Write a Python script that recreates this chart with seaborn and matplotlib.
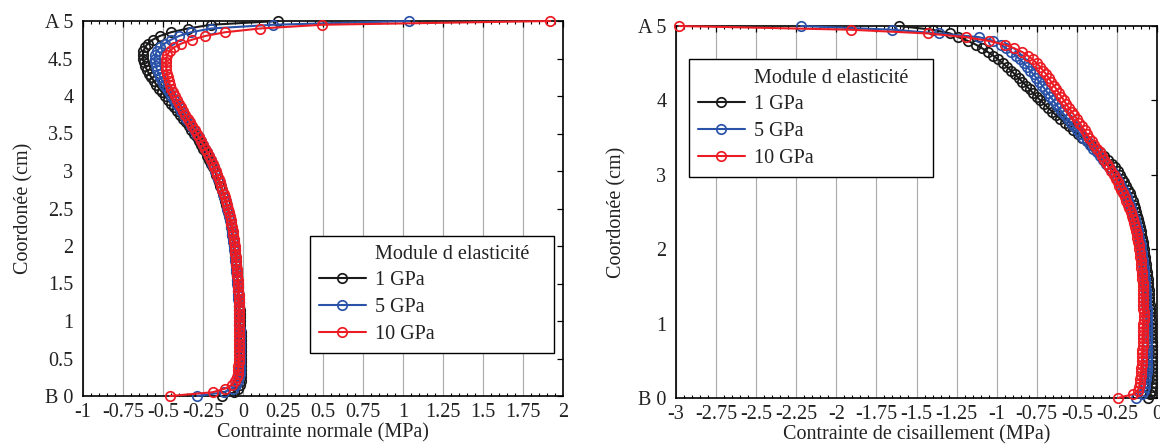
import matplotlib
matplotlib.use("Agg")
import matplotlib.pyplot as plt
import seaborn as sns
import pandas as pd
from matplotlib.ticker import MultipleLocator, FixedLocator
from matplotlib.lines import Line2D

# ---------------- data ----------------
coord = [
    0.00, 0.05, 0.10, 0.15, 0.20, 0.25, 0.30, 0.35, 0.40, 0.45,
    0.50, 0.55, 0.60, 0.65, 0.70, 0.75, 0.80, 0.85, 0.90, 0.95,
    1.00, 1.05, 1.10, 1.15, 1.20, 1.25, 1.30, 1.35, 1.40, 1.45,
    1.50, 1.55, 1.60, 1.65, 1.70, 1.75, 1.80, 1.85, 1.90, 1.95,
    2.00, 2.05, 2.10, 2.15, 2.20, 2.25, 2.30, 2.35, 2.40, 2.45,
    2.50, 2.55, 2.60, 2.65, 2.70, 2.75, 2.80, 2.85, 2.90, 2.95,
    3.00, 3.05, 3.10, 3.15, 3.20, 3.25, 3.30, 3.35, 3.40, 3.45,
    3.50, 3.55, 3.60, 3.65, 3.70, 3.75, 3.80, 3.85, 3.90, 3.95,
    4.00, 4.05, 4.10, 4.15, 4.20, 4.25, 4.30, 4.35, 4.40, 4.45,
    4.50, 4.55, 4.60, 4.65, 4.70, 4.75, 4.80, 4.85, 4.90, 4.95,
    5.00]

series_labels = ["1 GPa", "5 GPa", "10 GPa"]

# Contrainte normale (MPa)
normal_1gpa = [
    -0.13, -0.055, -0.03, -0.02, -0.015, -0.013, -0.012, -0.011, -0.011, -0.011,
    -0.011, -0.011, -0.012, -0.012, -0.013, -0.013, -0.014, -0.015, -0.016, -0.017,
    -0.018, -0.019, -0.02, -0.021, -0.022, -0.024, -0.025, -0.027, -0.029, -0.031,
    -0.033, -0.035, -0.037, -0.039, -0.041, -0.043, -0.045, -0.048, -0.05, -0.053,
    -0.056, -0.059, -0.062, -0.066, -0.07, -0.074, -0.078, -0.083, -0.088, -0.093,
    -0.099, -0.105, -0.111, -0.118, -0.125, -0.133, -0.141, -0.149, -0.158, -0.167,
    -0.177, -0.187, -0.198, -0.21, -0.222, -0.234, -0.247, -0.261, -0.275, -0.29,
    -0.306, -0.322, -0.339, -0.357, -0.375, -0.394, -0.413, -0.432, -0.451, -0.47,
    -0.488, -0.506, -0.524, -0.541, -0.557, -0.573, -0.588, -0.601, -0.612, -0.62,
    -0.625, -0.627, -0.623, -0.612, -0.595, -0.565, -0.52, -0.45, -0.345, -0.2,
    0.22]
normal_5gpa = [
    -0.285, -0.12, -0.065, -0.042, -0.03, -0.024, -0.021, -0.019, -0.018, -0.018,
    -0.018, -0.018, -0.018, -0.018, -0.019, -0.019, -0.02, -0.02, -0.021, -0.022,
    -0.023, -0.024, -0.025, -0.026, -0.027, -0.028, -0.029, -0.031, -0.032, -0.034,
    -0.035, -0.037, -0.039, -0.041, -0.043, -0.045, -0.047, -0.049, -0.052, -0.054,
    -0.057, -0.06, -0.063, -0.067, -0.07, -0.074, -0.078, -0.083, -0.087, -0.092,
    -0.098, -0.103, -0.109, -0.116, -0.123, -0.13, -0.138, -0.146, -0.154, -0.163,
    -0.172, -0.182, -0.192, -0.203, -0.214, -0.226, -0.238, -0.251, -0.264, -0.278,
    -0.292, -0.307, -0.322, -0.338, -0.354, -0.37, -0.386, -0.402, -0.418, -0.434,
    -0.449, -0.464, -0.478, -0.492, -0.505, -0.517, -0.528, -0.538, -0.546, -0.551,
    -0.553, -0.548, -0.537, -0.518, -0.49, -0.45, -0.4, -0.325, -0.2, 0.19,
    1.04]
normal_10gpa = [
    -0.456, -0.19, -0.11, -0.07, -0.05, -0.04, -0.034, -0.031, -0.029, -0.028,
    -0.027, -0.027, -0.027, -0.027, -0.027, -0.027, -0.027, -0.027, -0.027, -0.027,
    -0.027, -0.027, -0.027, -0.027, -0.027, -0.027, -0.028, -0.028, -0.029, -0.03,
    -0.031, -0.033, -0.035, -0.037, -0.039, -0.041, -0.043, -0.045, -0.047, -0.049,
    -0.051, -0.054, -0.057, -0.06, -0.064, -0.068, -0.072, -0.077, -0.082, -0.088,
    -0.094, -0.1, -0.107, -0.114, -0.121, -0.129, -0.137, -0.145, -0.153, -0.162,
    -0.171, -0.18, -0.19, -0.2, -0.211, -0.223, -0.235, -0.248, -0.261, -0.274,
    -0.288, -0.302, -0.316, -0.33, -0.345, -0.36, -0.374, -0.388, -0.402, -0.415,
    -0.427, -0.438, -0.448, -0.457, -0.465, -0.471, -0.476, -0.479, -0.481, -0.482,
    -0.48, -0.473, -0.458, -0.43, -0.385, -0.32, -0.236, -0.113, 0.106, 0.495,
    1.92]

# Contrainte de cisaillement (MPa)
shear_1gpa = [
    -0.055, -0.042, -0.036, -0.033, -0.031, -0.03, -0.029, -0.029, -0.029, -0.029,
    -0.03, -0.03, -0.031, -0.032, -0.033, -0.034, -0.035, -0.036, -0.037, -0.038,
    -0.039, -0.04, -0.041, -0.042, -0.044, -0.045, -0.047, -0.048, -0.05, -0.052,
    -0.054, -0.056, -0.058, -0.06, -0.063, -0.066, -0.069, -0.072, -0.075, -0.078,
    -0.081, -0.085, -0.089, -0.093, -0.097, -0.102, -0.107, -0.112, -0.118, -0.124,
    -0.13, -0.137, -0.144, -0.152, -0.161, -0.17, -0.18, -0.191, -0.203, -0.216,
    -0.23, -0.245, -0.262, -0.282, -0.304, -0.328, -0.354, -0.381, -0.409, -0.437,
    -0.465, -0.493, -0.521, -0.549, -0.576, -0.603, -0.629, -0.654, -0.679, -0.703,
    -0.727, -0.75, -0.773, -0.795, -0.817, -0.84, -0.862, -0.886, -0.91, -0.935,
    -0.962, -0.99, -1.02, -1.055, -1.09, -1.13, -1.18, -1.24, -1.29, -1.40,
    -1.61]
shear_5gpa = [
    -0.13, -0.095, -0.082, -0.076, -0.072, -0.069, -0.067, -0.065, -0.064, -0.063,
    -0.062, -0.062, -0.061, -0.061, -0.06, -0.06, -0.06, -0.061, -0.061, -0.061,
    -0.062, -0.062, -0.063, -0.064, -0.065, -0.066, -0.067, -0.068, -0.069, -0.071,
    -0.072, -0.074, -0.076, -0.078, -0.08, -0.082, -0.085, -0.088, -0.091, -0.094,
    -0.098, -0.102, -0.106, -0.111, -0.116, -0.121, -0.127, -0.133, -0.14, -0.147,
    -0.154, -0.162, -0.17, -0.179, -0.189, -0.199, -0.21, -0.222, -0.235, -0.249,
    -0.264, -0.281, -0.299, -0.318, -0.337, -0.357, -0.377, -0.398, -0.418, -0.439,
    -0.459, -0.479, -0.499, -0.519, -0.538, -0.557, -0.576, -0.595, -0.613, -0.631,
    -0.648, -0.665, -0.682, -0.699, -0.716, -0.734, -0.752, -0.77, -0.79, -0.81,
    -0.832, -0.855, -0.88, -0.91, -0.94, -0.975, -1.02, -1.11, -1.36, -1.65,
    -2.22]
shear_10gpa = [
    -0.245, -0.15, -0.12, -0.112, -0.107, -0.104, -0.101, -0.099, -0.097, -0.095,
    -0.094, -0.093, -0.092, -0.091, -0.09, -0.089, -0.088, -0.087, -0.086, -0.086,
    -0.085, -0.084, -0.084, -0.084, -0.085, -0.085, -0.086, -0.086, -0.087, -0.088,
    -0.089, -0.09, -0.092, -0.093, -0.095, -0.097, -0.099, -0.101, -0.104, -0.107,
    -0.11, -0.114, -0.118, -0.122, -0.127, -0.132, -0.138, -0.144, -0.151, -0.158,
    -0.165, -0.174, -0.183, -0.192, -0.202, -0.212, -0.223, -0.234, -0.246, -0.258,
    -0.27, -0.284, -0.298, -0.313, -0.328, -0.343, -0.358, -0.374, -0.39, -0.405,
    -0.421, -0.437, -0.452, -0.468, -0.484, -0.5, -0.516, -0.533, -0.55, -0.566,
    -0.58, -0.596, -0.612, -0.627, -0.643, -0.66, -0.675, -0.69, -0.71, -0.728,
    -0.75, -0.775, -0.805, -0.84, -0.89, -0.95, -1.05, -1.19, -1.43, -1.91,
    -2.98]

left_xticks = [-1, -0.75, -0.5, -0.25, 0, 0.25, 0.5, 0.75, 1, 1.25, 1.5, 1.75, 2]
right_xticks = [-3, -2.75, -2.5, -2.25, -2, -1.75, -1.5, -1.25, -1, -0.75, -0.5, -0.25, 0]
left_yticks = [0, 0.5, 1, 1.5, 2, 2.5, 3, 3.5, 4, 4.5, 5]
left_yticklabels = ["B 0", "0.5", "1", "1.5", "2", "2.5", "3", "3.5", "4", "4.5", "A 5"]
right_yticks = [0, 1, 2, 3, 4, 5]
right_yticklabels = ["B 0", "1", "2", "3", "4", "A 5"]
legend_title = "Module d elasticité"
ylabel = "Coordonée (cm)"
left_xlabel = "Contrainte normale (MPa)"
right_xlabel = "Contrainte de cisaillement (MPa)"

# ---------------- style ----------------
sns.set_theme(style="white")
FS = 14.5
plt.rcParams["font.family"] = ["Liberation Serif", "DejaVu Serif"]
plt.rcParams["axes.unicode_minus"] = False
plt.rcParams["font.size"] = FS

colors = ["#1a1a1a", "#2a52a8", "#ec1c24"]

fig = plt.figure(figsize=(11.6, 4.47), dpi=100)
ax1 = fig.add_axes([83 / 1160, 1 - 396 / 447, 480 / 1160, 375 / 447])
ax2 = fig.add_axes([676 / 1160, 1 - 398 / 447, 481 / 1160, 372 / 447])


def draw(ax, series, xlim, xticks, yticks, yticklabels, xlabel, legend_anchor):
    for vals, lab, col in zip(series, series_labels, colors):
        assert len(vals) == len(coord)
        df = pd.DataFrame({"x": vals, "y": coord})
        sns.lineplot(data=df, x="x", y="y", ax=ax, sort=False, estimator=None,
                     color=col, linewidth=1.5, marker="o", markersize=6.8,
                     markerfacecolor="none", markeredgecolor=col,
                     markeredgewidth=1.25, label=lab, clip_on=False, zorder=3)
    ax.set_xlim(*xlim)
    ax.set_ylim(0, 5)
    ax.xaxis.set_major_locator(FixedLocator(xticks))
    ax.set_xticklabels(["%g" % t for t in xticks], fontsize=FS)
    ax.xaxis.set_minor_locator(MultipleLocator(0.05))
    ax.yaxis.set_major_locator(FixedLocator(yticks))
    ax.set_yticklabels(yticklabels, fontsize=FS)
    ax.tick_params(axis="both", which="major", direction="in", length=4,
                   width=0.9, top=True, right=True, color="black",
                   labelcolor="#222222")
    ax.tick_params(axis="x", which="major", pad=5)
    ax.tick_params(axis="y", which="major", pad=7)
    ax.tick_params(axis="x", which="minor", direction="in", length=2.5,
                   width=0.8, top=True, bottom=True, color="black")
    ax.grid(True, axis="x", which="major", color="#ababab", linewidth=0.85)
    ax.grid(False, axis="y")
    ax.set_axisbelow(True)
    for sp in ax.spines.values():
        sp.set_visible(True)
        sp.set_color("black")
        sp.set_linewidth(1.2)
    ax.set_xlabel(xlabel, fontsize=FS, color="#222222", labelpad=1)
    ax.set_ylabel(ylabel, fontsize=FS, color="#222222", labelpad=8)
    handles, labels = ax.get_legend_handles_labels()
    title_handle = Line2D([], [], linestyle="none", marker=None)
    leg = ax.legend([title_handle] + handles,
                    [legend_title + "\u2002\u2005"] + labels,
                    loc="upper left", bbox_to_anchor=legend_anchor,
                    borderaxespad=0, fontsize=FS, frameon=True, fancybox=False,
                    framealpha=1, edgecolor="black", handlelength=2.35,
                    handletextpad=0.45, labelspacing=0.38, borderpad=0.45,
                    numpoints=1)
    leg.get_frame().set_linewidth(1.0)
    for t in leg.get_texts():
        t.set_color("#222222")


draw(ax1, [normal_1gpa, normal_5gpa, normal_10gpa], (-1, 2), left_xticks,
     left_yticks, left_yticklabels, left_xlabel, (0.472, 0.428))
draw(ax2, [shear_1gpa, shear_5gpa, shear_10gpa], (-3, 0), right_xticks,
     right_yticks, right_yticklabels, right_xlabel, (0.026, 0.91))

fig.savefig("out.png", dpi=100)
